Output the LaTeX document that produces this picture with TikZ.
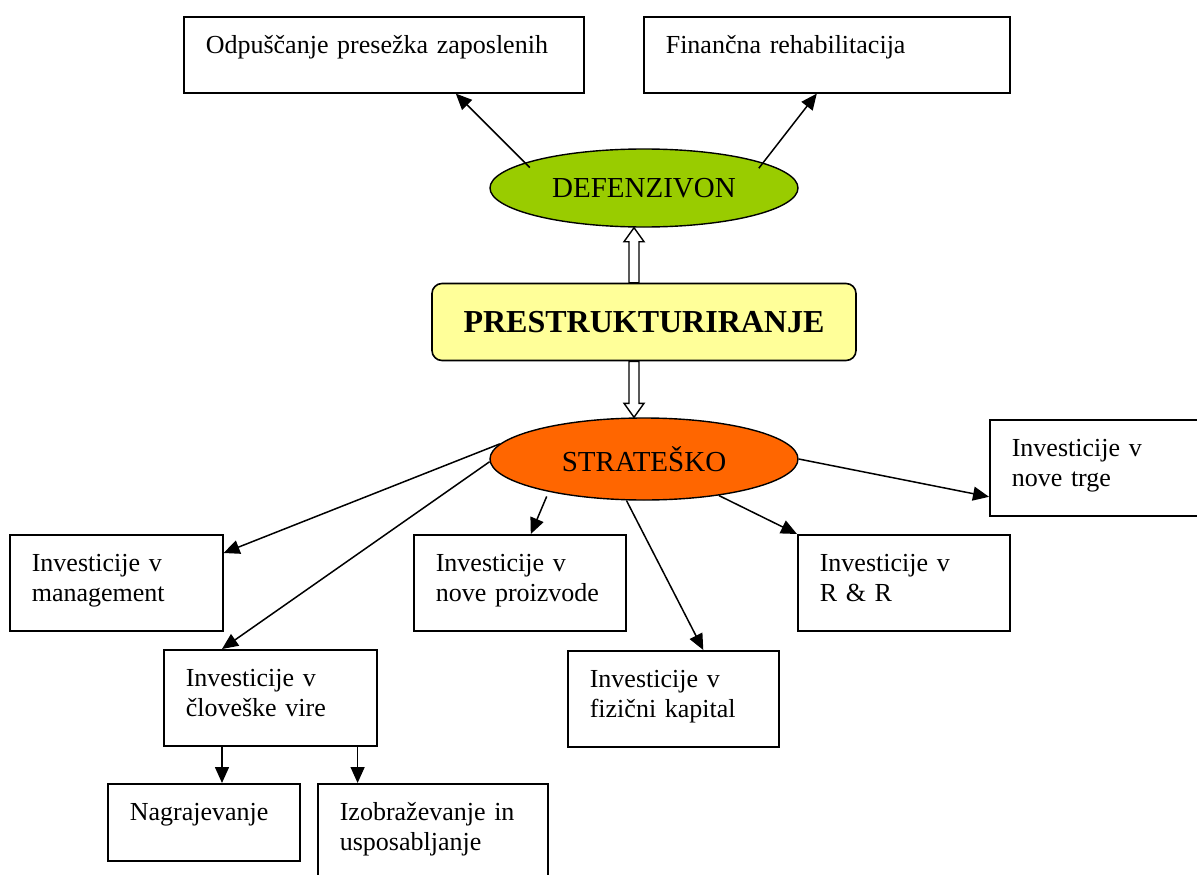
\documentclass[tikz,border=0pt]{standalone}
\usepackage{fontspec}
\setmainfont{Liberation Serif}
\usepackage{tikz}
\usetikzlibrary{calc,positioning,arrows.meta,shapes}
\definecolor{defgreen}{HTML}{99CC00}
\definecolor{stratorange}{HTML}{FF6600}
\definecolor{prestryellow}{HTML}{FFFF99}

\begin{document}
\begin{tikzpicture}[x=1pt,y=-1pt,
  every node/.style={font=\fontsize{26}{30}\selectfont},
  invbox/.style={draw,line width=1.6pt,anchor=north west,align=left,inner xsep=22pt,inner ysep=0pt,text height=37pt},
  oval/.style={draw,ellipse,line width=1.4pt,minimum width=308pt,font=\fontsize{29}{34}\selectfont},
  conn/.style={line width=1.5pt,-{Triangle[length=16pt,width=14pt]}},
  hollow/.style={draw,fill=white,line width=1.4pt}]
\path[use as bounding box,clip] (0,0) rectangle (1197,875);

% top
\node[invbox,text width=356pt,text depth=39pt] (odp) at (183,16) {Odpuščanje presežka zaposlenih};
\node[invbox,text width=322pt,text depth=39pt] (fin) at (643,16) {Finančna rehabilitacija};
\node[oval,fill=defgreen,minimum height=78pt] (defenz) at (644,188) {DEFENZIVON};
\node[draw,line width=1.6pt,rounded corners=10pt,fill=prestryellow,minimum width=424pt,minimum height=77pt,
  font=\fontsize{32}{38}\selectfont\bfseries] (prestr) at (644,322) {PRESTRUKTURIRANJE};
\node[oval,fill=stratorange,minimum height=82pt] (strat) at (644,459) {STRATEŠKO};

% investicije
\node[invbox,text width=216pt,text depth=59pt] (trge) at (989,419) {Investicije v\\nove trge};
\node[invbox,text width=169pt,text depth=59pt] (mgmt) at (9,534) {Investicije v\\management};
\node[invbox,text width=168pt,text depth=59pt] (prod) at (413,534) {Investicije v\\nove proizvode};
\node[invbox,text width=168pt,text depth=59pt] (rr) at (797,534) {Investicije v\\R \& R};
\node[invbox,text width=169pt,text depth=59pt] (clov) at (163,649) {Investicije v\\človeške vire};
\node[invbox,text width=167pt,text depth=59pt] (fiz) at (567,650) {Investicije v\\fizični kapital};
\node[invbox,text width=148pt,text depth=40pt] (nagr) at (107,783) {Nagrajevanje};
\node[invbox,text width=186pt,text depth=83pt] (izob) at (317,783) {Izobraževanje in\\usposabljanje};

% hollow arrows
\coordinate (ua) at ([xshift=-10pt]prestr.north);
\coordinate (ut) at (ua |- defenz.south);
\draw[hollow] (ut) -- ++(10,14) -- ++(-5,0) -- ($(ua)+(5,0)$) -- ($(ua)+(-5,0)$) -- ($(ut)+(-5,14)$) -- ++(-5,0) -- cycle;
\coordinate (da) at ([xshift=-10pt]prestr.south);
\coordinate (dt) at (da |- strat.north);
\draw[hollow] (dt) -- ++(10,-14) -- ++(-5,0) -- ($(da)+(5,0)$) -- ($(da)+(-5,0)$) -- ($(dt)+(-5,-14)$) -- ++(-5,0) -- cycle;

\draw[conn,shorten <=-7pt] (defenz.168) -- ([xshift=72pt]odp.south);
\draw[conn,shorten <=-7pt] (defenz.12) -- ([xshift=-10pt]fin.south);

\draw[conn] (strat.174) -- ([yshift=-19pt]mgmt.north east);
\draw[conn] (strat.181) -- ([xshift=59pt]clov.north west);
\draw[conn,shorten <=5pt] (strat.199) -- ([xshift=11pt]prod.north);
\draw[conn] (strat.247) -- ([xshift=30pt]fiz.north);
\draw[conn] (strat.334) -- (rr.north west);
\draw[conn] (strat.east) -- ([yshift=-29pt]trge.west);

\coordinate (cl) at ([xshift=59pt]clov.south west);
\coordinate (cr) at ([xshift=-20pt]clov.south east);
\draw[conn] (cl) -- (cl |- nagr.north);
\draw[conn] (cr) -- (cr |- izob.north);
\end{tikzpicture}
\end{document}
